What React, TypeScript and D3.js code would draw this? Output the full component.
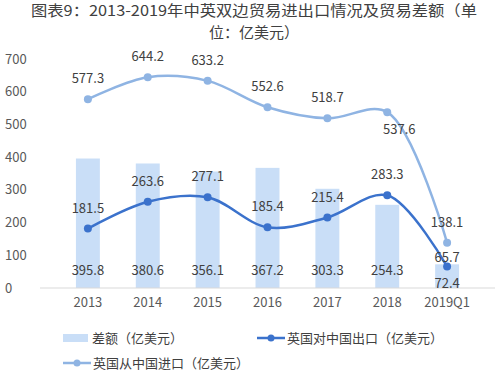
import { useEffect, useRef } from "react";
import * as d3 from "d3";

const categories = ["2013", "2014", "2015", "2016", "2017", "2018", "2019Q1"];
const balance = [395.8, 380.6, 356.1, 367.2, 303.3, 254.3, 72.4];
const exportsToChina = [181.5, 263.6, 277.1, 185.4, 215.4, 283.3, 65.7];
const importsFromChina = [577.3, 644.2, 633.2, 552.6, 518.7, 537.6, 138.1];
const yTicks = [0, 100, 200, 300, 400, 500, 600, 700];

const W = 500;
const H = 374;
const FONT = "'Noto Sans CJK SC', 'Noto Sans', sans-serif";

export default function App() {
  const svgRef = useRef<SVGSVGElement>(null);

  useEffect(() => {
    if (!svgRef.current) return;
    const svg = d3.select(svgRef.current);
    svg.selectAll("*").remove();

    const x = d3.scaleBand<string>().domain(categories).range([40, 495]).padding(0.6);
    const y = d3.scaleLinear().domain([0, 700]).range([288, 59]);
    const cx = (c: string) => (x(c) ?? 0) + x.bandwidth() / 2;

    // Titre
    const title = svg.append("g").attr("font-family", FONT).attr("fill", "#404040").attr("font-size", 15).attr("text-anchor", "middle");
    title.append("text").attr("x", 254).attr("y", 16)
      .attr("textLength", 446).attr("lengthAdjust", "spacingAndGlyphs")
      .text("图表9：2013-2019年中英双边贸易进出口情况及贸易差额（单");
    title.append("text").attr("x", 254).attr("y", 38).text("位：亿美元）");

    // Axe Y
    svg.append("g")
      .selectAll("text")
      .data(yTicks)
      .join("text")
      .attr("x", 5)
      .attr("y", (d) => y(d))
      .attr("dy", "0.35em")
      .attr("font-family", FONT)
      .attr("font-size", 13)
      .attr("fill", "#595959")
      .text((d) => d);

    // Barres
    svg.append("g")
      .selectAll("rect")
      .data(balance)
      .join("rect")
      .attr("x", (_d, i) => x(categories[i]) ?? 0)
      .attr("y", (d) => y(d))
      .attr("width", x.bandwidth())
      .attr("height", (d) => y(0) - y(d))
      .attr("fill", "#c9def7");

    // Ligne de base
    svg.append("line")
      .attr("x1", 40).attr("x2", 495)
      .attr("y1", y(0)).attr("y2", y(0))
      .attr("stroke", "#d9d9d9").attr("stroke-width", 1);

    // Labels X
    svg.append("g")
      .selectAll("text")
      .data(categories)
      .join("text")
      .attr("x", (d) => cx(d))
      .attr("y", 307)
      .attr("text-anchor", "middle")
      .attr("font-family", FONT)
      .attr("font-size", 13)
      .attr("fill", "#595959")
      .text((d) => d);

    // Labels des barres
    svg.append("g")
      .selectAll("text")
      .data(balance)
      .join("text")
      .attr("x", (_d, i) => cx(categories[i]))
      .attr("y", (_d, i) => (i === categories.length - 1 ? 288 : 275))
      .attr("text-anchor", "middle")
      .attr("font-family", FONT)
      .attr("font-size", 13)
      .attr("fill", "#404040")
      .text((d) => d.toFixed(1));

    const line = d3.line<number>()
      .x((_d, i) => cx(categories[i]))
      .y((d) => y(d))
      .curve(d3.curveCatmullRom.alpha(0.5));

    const series = [
      { values: importsFromChina, color: "#8fb4e3", width: 2.5 },
      { values: exportsToChina, color: "#3b72cc", width: 2.5 },
    ];

    series.forEach((s) => {
      svg.append("path")
        .attr("d", line(s.values) || "")
        .attr("fill", "none")
        .attr("stroke", s.color)
        .attr("stroke-width", s.width);
      svg.append("g")
        .selectAll("circle")
        .data(s.values)
        .join("circle")
        .attr("cx", (_d, i) => cx(categories[i]))
        .attr("cy", (d) => y(d))
        .attr("r", 4)
        .attr("fill", s.color);
    });

    // Labels des lignes
    const importOffset = (i: number): [number, number] => (i === 5 ? [12, 22] : [0, -16]);
    svg.append("g")
      .selectAll("text")
      .data(importsFromChina)
      .join("text")
      .attr("x", (_d, i) => cx(categories[i]) + importOffset(i)[0])
      .attr("y", (d, i) => y(d) + importOffset(i)[1])
      .attr("text-anchor", "middle")
      .attr("font-family", FONT)
      .attr("font-size", 13)
      .attr("fill", "#404040")
      .text((d) => d.toFixed(1));

    svg.append("g")
      .selectAll("text")
      .data(exportsToChina)
      .join("text")
      .attr("x", (_d, i) => cx(categories[i]))
      .attr("y", (d, i) => y(d) - (i === 6 ? 5 : 16))
      .attr("text-anchor", "middle")
      .attr("font-family", FONT)
      .attr("font-size", 13)
      .attr("fill", "#404040")
      .text((d) => d.toFixed(1));

    // Légende
    const legend = svg.append("g").attr("font-family", FONT).attr("font-size", 13).attr("fill", "#404040");
    legend.append("rect").attr("x", 63).attr("y", 334).attr("width", 25).attr("height", 8).attr("fill", "#c9def7");
    legend.append("text").attr("x", 92).attr("y", 338).attr("dy", "0.35em").text("差额（亿美元）");

    legend.append("line").attr("x1", 257).attr("x2", 285).attr("y1", 338).attr("y2", 338).attr("stroke", "#3b72cc").attr("stroke-width", 2.5);
    legend.append("circle").attr("cx", 271).attr("cy", 338).attr("r", 3.5).attr("fill", "#3b72cc");
    legend.append("text").attr("x", 287).attr("y", 338).attr("dy", "0.35em").text("英国对中国出口（亿美元）");

    legend.append("line").attr("x1", 63).attr("x2", 91).attr("y1", 363).attr("y2", 363).attr("stroke", "#8fb4e3").attr("stroke-width", 2.5);
    legend.append("circle").attr("cx", 77).attr("cy", 363).attr("r", 3.5).attr("fill", "#8fb4e3");
    legend.append("text").attr("x", 93).attr("y", 363).attr("dy", "0.35em").text("英国从中国进口（亿美元）");
  }, []);

  return (
    <svg ref={svgRef} width={W} height={H} style={{ position: "absolute", left: 0, top: 0, background: "#fff" }} />
  );
}
